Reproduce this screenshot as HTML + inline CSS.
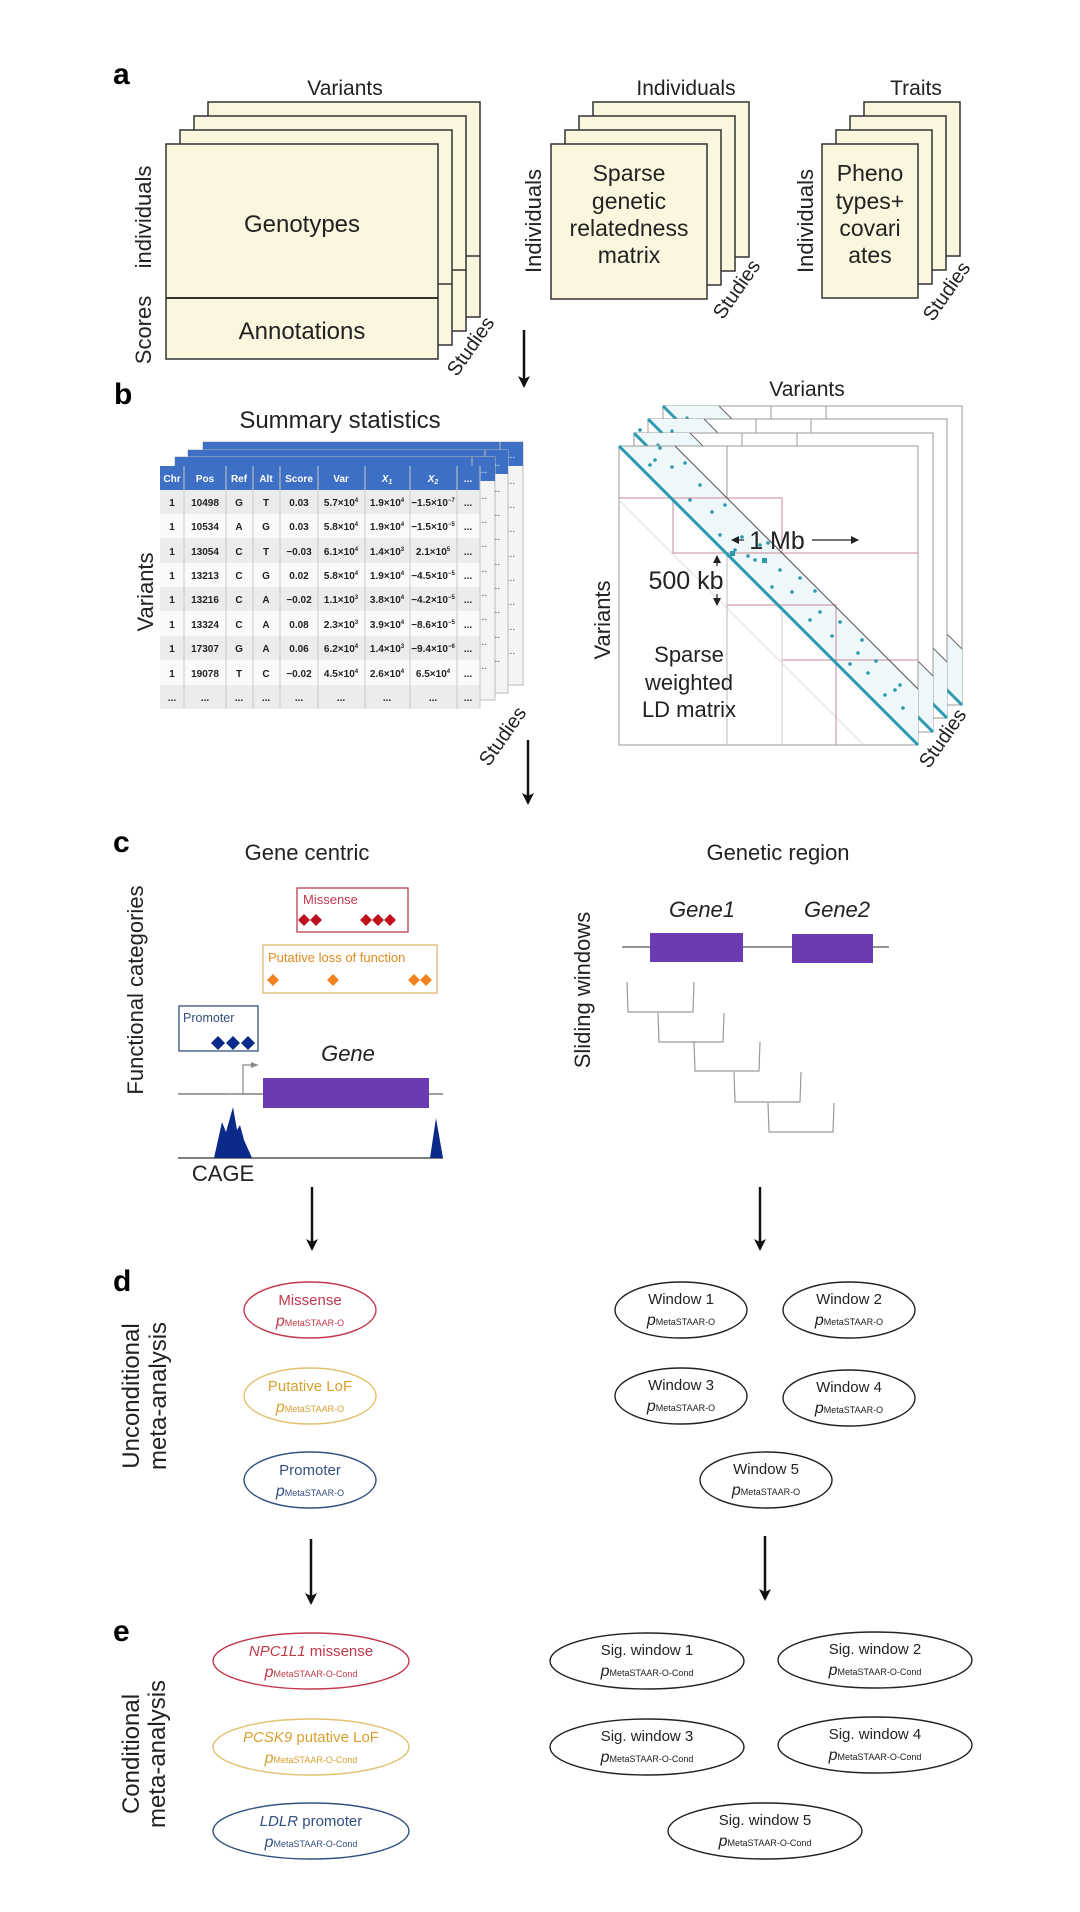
<!DOCTYPE html>
<html><head><meta charset="utf-8"><style>
html,body{margin:0;padding:0;background:#fff;}
svg{display:block;font-family:"Liberation Sans",Arial,sans-serif;}
</style></head><body>
<svg width="1080" height="1912" viewBox="0 0 1080 1912" xmlns="http://www.w3.org/2000/svg">
<defs>
<marker id="ah" markerWidth="12" markerHeight="12" refX="10" refY="6" orient="auto" markerUnits="userSpaceOnUse"><path d="M0,0 L12,6 L0,12 L3,6 Z" fill="#111"/></marker>
<marker id="sa" markerWidth="8" markerHeight="8" refX="7" refY="4" orient="auto" markerUnits="userSpaceOnUse"><path d="M0,0 L8,4 L0,8 Z" fill="#222"/></marker>
<marker id="ga" markerWidth="8" markerHeight="8" refX="7" refY="4" orient="auto" markerUnits="userSpaceOnUse"><path d="M0,1 L7,4 L0,7 Z" fill="#888"/></marker>
<g id="tblback">
<rect x="0" y="0" width="320" height="243" fill="#f4f4f4" stroke="#bbb"/>
<rect x="0" y="0" width="320" height="24" fill="#3d6fc4"/>
<text x="308" y="16" fill="#fff" font-size="10" text-anchor="middle">...</text>
<text x="308" y="42" fill="#444" font-size="10" text-anchor="middle">...</text>
<text x="308" y="66" fill="#444" font-size="10" text-anchor="middle">...</text>
<text x="308" y="90" fill="#444" font-size="10" text-anchor="middle">...</text>
<text x="308" y="115" fill="#444" font-size="10" text-anchor="middle">...</text>
<text x="308" y="139" fill="#444" font-size="10" text-anchor="middle">...</text>
<text x="308" y="163" fill="#444" font-size="10" text-anchor="middle">...</text>
<text x="308" y="188" fill="#444" font-size="10" text-anchor="middle">...</text>
<text x="308" y="212" fill="#444" font-size="10" text-anchor="middle">...</text>
<line x1="297" y1="0" x2="297" y2="243" stroke="#bbb"/>
</g>
<g id="ldback">
<rect x="0" y="0" width="299" height="299" fill="#fff" stroke="#999"/>
<polygon points="0,0 56,0 299,243 299,299" fill="#eef7f9"/>
<line x1="0" y1="0" x2="299" y2="299" stroke="#2a9ab0" stroke-width="3"/>
<line x1="56" y1="0" x2="299" y2="243" stroke="#666" stroke-width="1"/>
<line x1="108" y1="0" x2="108" y2="52" stroke="#999"/>
<line x1="163" y1="0" x2="163" y2="107" stroke="#999"/>
<circle cx="24" cy="12" r="1.6" fill="#2a9ab0"/><circle cx="40" cy="20" r="1.6" fill="#2a9ab0"/>
</g>
</defs>

<!-- ===== Panel a ===== -->
<text x="113" y="84" font-size="30" font-weight="bold">a</text>
<text x="345" y="95" font-size="21" text-anchor="middle" fill="#222">Variants</text>
<text x="686" y="95" font-size="21" text-anchor="middle" fill="#222">Individuals</text>
<text x="916" y="95" font-size="21" text-anchor="middle" fill="#222">Traits</text>

<g fill="#fbf7df" stroke="#333" stroke-width="1.5">
<rect x="208" y="102" width="272" height="215"/>
<rect x="194" y="116" width="272" height="215"/>
<rect x="180" y="130" width="272" height="215"/>
<rect x="166" y="144" width="272" height="215"/>
<rect x="593" y="102" width="156" height="155"/>
<rect x="579" y="116" width="156" height="155"/>
<rect x="565" y="130" width="156" height="155"/>
<rect x="551" y="144" width="156" height="155"/>
<rect x="864" y="102" width="96" height="154"/>
<rect x="850" y="116" width="96" height="154"/>
<rect x="836" y="130" width="96" height="154"/>
<rect x="822" y="144" width="96" height="154"/>
</g>
<line x1="166" y1="298" x2="438" y2="298" stroke="#333" stroke-width="2"/>
<line x1="438" y1="284" x2="452" y2="284" stroke="#333" stroke-width="1.5"/>
<line x1="452" y1="270" x2="466" y2="270" stroke="#333" stroke-width="1.5"/>
<line x1="466" y1="256" x2="480" y2="256" stroke="#333" stroke-width="1.5"/>
<text x="302" y="232" font-size="24" text-anchor="middle" fill="#222">Genotypes</text>
<text x="302" y="339" font-size="24" text-anchor="middle" fill="#222">Annotations</text>
<text transform="translate(151,217) rotate(-90)" font-size="22" text-anchor="middle" fill="#222">individuals</text>
<text transform="translate(151,330) rotate(-90)" font-size="22" text-anchor="middle" fill="#222">Scores</text>
<text transform="translate(476,350) rotate(-55)" font-size="20" text-anchor="middle" fill="#222">Studies</text>

<g font-size="23" text-anchor="middle" fill="#222">
<text x="629" y="181">Sparse</text>
<text x="629" y="209">genetic</text>
<text x="629" y="236">relatedness</text>
<text x="629" y="263">matrix</text>
<text x="870" y="181">Pheno</text>
<text x="870" y="209">types+</text>
<text x="870" y="236">covari</text>
<text x="870" y="263">ates</text>
</g>
<text transform="translate(541,221) rotate(-90)" font-size="22" text-anchor="middle" fill="#222">Individuals</text>
<text transform="translate(813,221) rotate(-90)" font-size="22" text-anchor="middle" fill="#222">Individuals</text>
<text transform="translate(742,293) rotate(-55)" font-size="20" text-anchor="middle" fill="#222">Studies</text>
<text transform="translate(952,295) rotate(-55)" font-size="20" text-anchor="middle" fill="#222">Studies</text>

<line x1="524" y1="330" x2="524" y2="386" stroke="#111" stroke-width="2.5" marker-end="url(#ah)"/>

<!-- ===== Panel b ===== -->
<text x="114" y="404" font-size="30" font-weight="bold">b</text>
<text x="340" y="428" font-size="24" text-anchor="middle" fill="#222">Summary statistics</text>
<text x="807" y="396" font-size="21" text-anchor="middle" fill="#222">Variants</text>

<use href="#tblback" x="203" y="442"/>
<use href="#tblback" x="188" y="450"/>
<use href="#tblback" x="175" y="457"/>

<g>
<rect x="160" y="466" width="320" height="24" fill="#3d6fc4"/>
<g fill="#ececec">
<rect x="160" y="490" width="320" height="24"/>
<rect x="160" y="538" width="320" height="25"/>
<rect x="160" y="587" width="320" height="24"/>
<rect x="160" y="636" width="320" height="24"/>
<rect x="160" y="685" width="320" height="24"/>
</g>
<g fill="#fafafa">
<rect x="160" y="514" width="320" height="24"/>
<rect x="160" y="563" width="320" height="24"/>
<rect x="160" y="611" width="320" height="25"/>
<rect x="160" y="660" width="320" height="25"/>
</g>
<g stroke="#c8c8c8" stroke-width="1">
<line x1="184" y1="466" x2="184" y2="709"/><line x1="226" y1="466" x2="226" y2="709"/>
<line x1="253" y1="466" x2="253" y2="709"/><line x1="280" y1="466" x2="280" y2="709"/>
<line x1="318" y1="466" x2="318" y2="709"/><line x1="365" y1="466" x2="365" y2="709"/>
<line x1="410" y1="466" x2="410" y2="709"/><line x1="457" y1="466" x2="457" y2="709"/>
<line x1="480" y1="466" x2="480" y2="709"/>
</g>
<g font-size="10" font-weight="bold" fill="#fff" text-anchor="middle">
<text x="172" y="482">Chr</text><text x="205" y="482">Pos</text><text x="239" y="482">Ref</text>
<text x="266" y="482">Alt</text><text x="299" y="482">Score</text><text x="341" y="482">Var</text>
<text x="387" y="482" font-style="italic">X<tspan font-size="7" dy="2">1</tspan></text>
<text x="433" y="482" font-style="italic">X<tspan font-size="7" dy="2">2</tspan></text>
<text x="468" y="482">...</text>
</g>
<g font-size="10" font-weight="bold" fill="#222" text-anchor="middle">
<text x="172" y="506">1</text><text x="205" y="506">10498</text><text x="239" y="506">G</text><text x="266" y="506">T</text><text x="299" y="506">0.03</text><text x="341" y="506">5.7×10<tspan font-size="6" dy="-4">4</tspan></text><text x="387" y="506">1.9×10<tspan font-size="6" dy="-4">4</tspan></text><text x="433" y="506">−1.5×10<tspan font-size="6" dy="-4">−7</tspan></text><text x="468" y="506">...</text>
<text x="172" y="530">1</text><text x="205" y="530">10534</text><text x="239" y="530">A</text><text x="266" y="530">G</text><text x="299" y="530">0.03</text><text x="341" y="530">5.8×10<tspan font-size="6" dy="-4">4</tspan></text><text x="387" y="530">1.9×10<tspan font-size="6" dy="-4">4</tspan></text><text x="433" y="530">−1.5×10<tspan font-size="6" dy="-4">−5</tspan></text><text x="468" y="530">...</text>
<text x="172" y="555">1</text><text x="205" y="555">13054</text><text x="239" y="555">C</text><text x="266" y="555">T</text><text x="299" y="555">−0.03</text><text x="341" y="555">6.1×10<tspan font-size="6" dy="-4">4</tspan></text><text x="387" y="555">1.4×10<tspan font-size="6" dy="-4">3</tspan></text><text x="433" y="555">2.1×10<tspan font-size="6" dy="-4">5</tspan></text><text x="468" y="555">...</text>
<text x="172" y="579">1</text><text x="205" y="579">13213</text><text x="239" y="579">C</text><text x="266" y="579">G</text><text x="299" y="579">0.02</text><text x="341" y="579">5.8×10<tspan font-size="6" dy="-4">4</tspan></text><text x="387" y="579">1.9×10<tspan font-size="6" dy="-4">4</tspan></text><text x="433" y="579">−4.5×10<tspan font-size="6" dy="-4">−5</tspan></text><text x="468" y="579">...</text>
<text x="172" y="603">1</text><text x="205" y="603">13216</text><text x="239" y="603">C</text><text x="266" y="603">A</text><text x="299" y="603">−0.02</text><text x="341" y="603">1.1×10<tspan font-size="6" dy="-4">3</tspan></text><text x="387" y="603">3.8×10<tspan font-size="6" dy="-4">4</tspan></text><text x="433" y="603">−4.2×10<tspan font-size="6" dy="-4">−5</tspan></text><text x="468" y="603">...</text>
<text x="172" y="628">1</text><text x="205" y="628">13324</text><text x="239" y="628">C</text><text x="266" y="628">A</text><text x="299" y="628">0.08</text><text x="341" y="628">2.3×10<tspan font-size="6" dy="-4">3</tspan></text><text x="387" y="628">3.9×10<tspan font-size="6" dy="-4">4</tspan></text><text x="433" y="628">−8.6×10<tspan font-size="6" dy="-4">−5</tspan></text><text x="468" y="628">...</text>
<text x="172" y="652">1</text><text x="205" y="652">17307</text><text x="239" y="652">G</text><text x="266" y="652">A</text><text x="299" y="652">0.06</text><text x="341" y="652">6.2×10<tspan font-size="6" dy="-4">4</tspan></text><text x="387" y="652">1.4×10<tspan font-size="6" dy="-4">3</tspan></text><text x="433" y="652">−9.4×10<tspan font-size="6" dy="-4">−6</tspan></text><text x="468" y="652">...</text>
<text x="172" y="677">1</text><text x="205" y="677">19078</text><text x="239" y="677">T</text><text x="266" y="677">C</text><text x="299" y="677">−0.02</text><text x="341" y="677">4.5×10<tspan font-size="6" dy="-4">4</tspan></text><text x="387" y="677">2.6×10<tspan font-size="6" dy="-4">4</tspan></text><text x="433" y="677">6.5×10<tspan font-size="6" dy="-4">4</tspan></text><text x="468" y="677">...</text>
<text x="172" y="701">...</text><text x="205" y="701">...</text><text x="239" y="701">...</text><text x="266" y="701">...</text><text x="299" y="701">...</text><text x="341" y="701">...</text><text x="387" y="701">...</text><text x="433" y="701">...</text><text x="468" y="701">...</text>
</g>
</g>
<text transform="translate(153,592) rotate(-90)" font-size="22" text-anchor="middle" fill="#222">Variants</text>
<text transform="translate(508,740) rotate(-55)" font-size="20" text-anchor="middle" fill="#222">Studies</text>

<use href="#ldback" x="663" y="406"/>
<use href="#ldback" x="648" y="419"/>
<use href="#ldback" x="634" y="433"/>
<g>
<rect x="619" y="446" width="299" height="299" fill="#fff" stroke="#999"/>
<polygon points="619,446 675,446 918,689 918,745" fill="#eef7f9"/>
<line x1="619" y1="500" x2="864" y2="745" stroke="#e4dcdc" stroke-width="1"/>
<g fill="none" stroke-width="1">
<rect x="619" y="446" width="108" height="52" stroke="#999"/>
<polyline points="619,498 782,498 782,553" stroke="#c98a96"/>
<polyline points="673,498 673,553 727,553" stroke="#c98a96"/>
<polyline points="727,553 918,553" stroke="#c98a96"/>
<polyline points="727,553 727,745" stroke="#bbb"/>
<polyline points="727,605 836,605 836,745" stroke="#c98a96"/>
<polyline points="782,660 918,660" stroke="#c98a96"/>
<polyline points="782,605 782,745" stroke="#ccc"/>
</g>
<line x1="675" y1="446" x2="918" y2="689" stroke="#555" stroke-width="1"/>
<line x1="619" y1="446" x2="918" y2="745" stroke="#2a9ab0" stroke-width="3"/>
<g fill="#2a9ab0">
<circle cx="640" cy="430" r="1.8"/><circle cx="655" cy="460" r="1.8"/><circle cx="660" cy="448" r="1.8"/>
<circle cx="672" cy="467" r="1.8"/><circle cx="690" cy="500" r="1.8"/><circle cx="700" cy="485" r="1.8"/>
<circle cx="712" cy="512" r="1.8"/><circle cx="725" cy="505" r="1.8"/><circle cx="735" cy="550" r="1.8"/>
<circle cx="742" cy="537" r="1.8"/><circle cx="755" cy="560" r="1.8"/><circle cx="760" cy="545" r="1.8"/>
<circle cx="772" cy="587" r="1.8"/><circle cx="780" cy="570" r="1.8"/><circle cx="792" cy="592" r="1.8"/>
<circle cx="800" cy="578" r="1.8"/><circle cx="810" cy="620" r="1.8"/><circle cx="820" cy="612" r="1.8"/>
<circle cx="832" cy="636" r="1.8"/><circle cx="840" cy="622" r="1.8"/><circle cx="850" cy="664" r="1.8"/>
<circle cx="858" cy="653" r="1.8"/><circle cx="868" cy="673" r="1.8"/><circle cx="876" cy="661" r="1.8"/>
<circle cx="885" cy="695" r="1.8"/><circle cx="895" cy="690" r="1.8"/><circle cx="903" cy="708" r="1.8"/>
<circle cx="650" cy="465" r="1.8"/><circle cx="685" cy="463" r="1.8"/><circle cx="720" cy="535" r="1.8"/>
<circle cx="768" cy="543" r="1.8"/><circle cx="815" cy="591" r="1.8"/><circle cx="862" cy="640" r="1.8"/>
<circle cx="900" cy="685" r="1.8"/><circle cx="748" cy="556" r="1.8"/>
<rect x="730" y="551" width="5" height="5"/><rect x="762" y="558" width="5" height="5"/>
</g>
</g>
<line x1="744" y1="540" x2="732" y2="540" stroke="#222" stroke-width="1.2" marker-end="url(#sa)"/>
<line x1="812" y1="540" x2="858" y2="540" stroke="#222" stroke-width="1.2" marker-end="url(#sa)"/>
<text x="777" y="549" font-size="25" text-anchor="middle" fill="#222">1 Mb</text>
<line x1="717" y1="566" x2="717" y2="556" stroke="#222" stroke-width="1.2" marker-end="url(#sa)"/>
<line x1="717" y1="594" x2="717" y2="605" stroke="#222" stroke-width="1.2" marker-end="url(#sa)"/>
<text x="686" y="589" font-size="25" text-anchor="middle" fill="#222">500 kb</text>
<g font-size="22" text-anchor="middle" fill="#222">
<text x="689" y="662">Sparse</text>
<text x="689" y="690">weighted</text>
<text x="689" y="717">LD matrix</text>
</g>
<text transform="translate(610,620) rotate(-90)" font-size="22" text-anchor="middle" fill="#222">Variants</text>
<text transform="translate(948,742) rotate(-55)" font-size="20" text-anchor="middle" fill="#222">Studies</text>

<line x1="528" y1="740" x2="528" y2="803" stroke="#111" stroke-width="2.5" marker-end="url(#ah)"/>

<!-- ===== Panel c ===== -->
<text x="113" y="852" font-size="30" font-weight="bold">c</text>
<text x="307" y="860" font-size="22" text-anchor="middle" fill="#222">Gene centric</text>
<text x="778" y="860" font-size="22" text-anchor="middle" fill="#222">Genetic region</text>
<text transform="translate(143,990) rotate(-90)" font-size="22" text-anchor="middle" fill="#222">Functional categories</text>
<text transform="translate(590,990) rotate(-90)" font-size="22" text-anchor="middle" fill="#222">Sliding windows</text>

<rect x="297" y="888" width="111" height="44" fill="#fff" stroke="#b8404e" stroke-width="1.3"/>
<text x="303" y="904" font-size="13" fill="#c0394b">Missense</text>
<g fill="#c0101e">
<path d="M304,914 l6,6 l-6,6 l-6,-6z"/><path d="M316,914 l6,6 l-6,6 l-6,-6z"/>
<path d="M366,914 l6,6 l-6,6 l-6,-6z"/><path d="M378,914 l6,6 l-6,6 l-6,-6z"/><path d="M390,914 l6,6 l-6,6 l-6,-6z"/>
</g>
<rect x="263" y="945" width="174" height="48" fill="#fff" stroke="#e2b870" stroke-width="1.3"/>
<text x="268" y="962" font-size="13" fill="#e08a20">Putative loss of function</text>
<g fill="#f0821e">
<path d="M273,974 l6,6 l-6,6 l-6,-6z"/><path d="M333,974 l6,6 l-6,6 l-6,-6z"/>
<path d="M414,974 l6,6 l-6,6 l-6,-6z"/><path d="M426,974 l6,6 l-6,6 l-6,-6z"/>
</g>
<rect x="179" y="1006" width="79" height="45" fill="#fff" stroke="#34507f" stroke-width="1.3"/>
<text x="183" y="1022" font-size="12.5" fill="#34507f">Promoter</text>
<g fill="#0a2a8a">
<path d="M218,1036 l7,7 l-7,7 l-7,-7z"/><path d="M233,1036 l7,7 l-7,7 l-7,-7z"/><path d="M248,1036 l7,7 l-7,7 l-7,-7z"/>
</g>
<text x="348" y="1061" font-size="22" font-style="italic" text-anchor="middle" fill="#222">Gene</text>
<line x1="178" y1="1094" x2="443" y2="1094" stroke="#666" stroke-width="1.3"/>
<rect x="263" y="1078" width="166" height="30" fill="#6a3bb3"/>
<polyline points="228,1094 243,1094 243,1065 258,1065" fill="none" stroke="#888" stroke-width="1.2" marker-end="url(#ga)"/>
<line x1="178" y1="1158" x2="443" y2="1158" stroke="#333" stroke-width="1.3"/>
<path d="M214,1158 L222,1122 L226,1132 L233,1107 L237,1130 L240,1125 L244,1140 L252,1158 Z" fill="#0a2a8a"/>
<path d="M430,1158 L436,1118 L443,1158 Z" fill="#0a2a8a"/>
<text x="223" y="1181" font-size="22" text-anchor="middle" fill="#222">CAGE</text>

<text x="702" y="917" font-size="22" font-style="italic" text-anchor="middle" fill="#222">Gene1</text>
<text x="837" y="917" font-size="22" font-style="italic" text-anchor="middle" fill="#222">Gene2</text>
<line x1="622" y1="947" x2="889" y2="947" stroke="#555" stroke-width="1.3"/>
<rect x="650" y="933" width="93" height="29" fill="#6a3bb3"/>
<rect x="792" y="934" width="81" height="29" fill="#6a3bb3"/>
<g fill="none" stroke="#999" stroke-width="1.2">
<polyline points="627,982 628,1012 693,1012 694,982"/>
<polyline points="658,1013 659,1042 723,1042 724,1013"/>
<polyline points="694,1042 695,1071 759,1071 760,1042"/>
<polyline points="734,1072 735,1102 800,1102 801,1072"/>
<polyline points="768,1103 769,1132 833,1132 834,1103"/>
</g>

<line x1="312" y1="1187" x2="312" y2="1249" stroke="#111" stroke-width="2.5" marker-end="url(#ah)"/>
<line x1="760" y1="1187" x2="760" y2="1249" stroke="#111" stroke-width="2.5" marker-end="url(#ah)"/>

<!-- ===== Panel d ===== -->
<text x="113" y="1291" font-size="30" font-weight="bold">d</text>
<text transform="translate(139,1396) rotate(-90)" font-size="24" text-anchor="middle" fill="#222">Unconditional</text>
<text transform="translate(166,1396) rotate(-90)" font-size="24" text-anchor="middle" fill="#222">meta-analysis</text>

<g fill="none" stroke-width="1.4">
<ellipse cx="310" cy="1310" rx="66" ry="28" stroke="#c0394b"/>
<ellipse cx="310" cy="1396" rx="66" ry="28" stroke="#e2c070"/>
<ellipse cx="310" cy="1480" rx="66" ry="28" stroke="#34507f"/>
<ellipse cx="681" cy="1310" rx="66" ry="28" stroke="#222"/>
<ellipse cx="849" cy="1310" rx="66" ry="28" stroke="#222"/>
<ellipse cx="681" cy="1396" rx="66" ry="28" stroke="#222"/>
<ellipse cx="849" cy="1398" rx="66" ry="28" stroke="#222"/>
<ellipse cx="766" cy="1480" rx="66" ry="28" stroke="#222"/>
</g>
<g font-size="15" text-anchor="middle">
<text x="310" y="1305" fill="#c0394b">Missense</text>
<text x="310" y="1326" fill="#c0394b" font-size="9"><tspan font-size="16" font-style="italic">p</tspan>MetaSTAAR-O</text>
<text x="310" y="1391" fill="#d8a030">Putative LoF</text>
<text x="310" y="1412" fill="#d8a030" font-size="9"><tspan font-size="16" font-style="italic">p</tspan>MetaSTAAR-O</text>
<text x="310" y="1475" fill="#34507f">Promoter</text>
<text x="310" y="1496" fill="#34507f" font-size="9"><tspan font-size="16" font-style="italic">p</tspan>MetaSTAAR-O</text>
<g fill="#222">
<text x="681" y="1304">Window 1</text>
<text x="681" y="1325" font-size="9"><tspan font-size="16" font-style="italic">p</tspan>MetaSTAAR-O</text>
<text x="849" y="1304">Window 2</text>
<text x="849" y="1325" font-size="9"><tspan font-size="16" font-style="italic">p</tspan>MetaSTAAR-O</text>
<text x="681" y="1390">Window 3</text>
<text x="681" y="1411" font-size="9"><tspan font-size="16" font-style="italic">p</tspan>MetaSTAAR-O</text>
<text x="849" y="1392">Window 4</text>
<text x="849" y="1413" font-size="9"><tspan font-size="16" font-style="italic">p</tspan>MetaSTAAR-O</text>
<text x="766" y="1474">Window 5</text>
<text x="766" y="1495" font-size="9"><tspan font-size="16" font-style="italic">p</tspan>MetaSTAAR-O</text>
</g>
</g>

<line x1="311" y1="1539" x2="311" y2="1603" stroke="#111" stroke-width="2.5" marker-end="url(#ah)"/>
<line x1="765" y1="1536" x2="765" y2="1599" stroke="#111" stroke-width="2.5" marker-end="url(#ah)"/>

<!-- ===== Panel e ===== -->
<text x="113" y="1641" font-size="30" font-weight="bold">e</text>
<text transform="translate(139,1754) rotate(-90)" font-size="24" text-anchor="middle" fill="#222">Conditional</text>
<text transform="translate(165,1754) rotate(-90)" font-size="24" text-anchor="middle" fill="#222">meta-analysis</text>

<g fill="none" stroke-width="1.4">
<ellipse cx="311" cy="1661" rx="98" ry="28" stroke="#c0394b"/>
<ellipse cx="311" cy="1747" rx="98" ry="28" stroke="#e2c070"/>
<ellipse cx="311" cy="1831" rx="98" ry="28" stroke="#34507f"/>
<ellipse cx="647" cy="1661" rx="97" ry="28" stroke="#222"/>
<ellipse cx="875" cy="1660" rx="97" ry="28" stroke="#222"/>
<ellipse cx="647" cy="1747" rx="97" ry="28" stroke="#222"/>
<ellipse cx="875" cy="1745" rx="97" ry="28" stroke="#222"/>
<ellipse cx="765" cy="1831" rx="97" ry="28" stroke="#222"/>
</g>
<g font-size="15" text-anchor="middle">
<text x="311" y="1656" fill="#c0394b"><tspan font-style="italic">NPC1L1</tspan> missense</text>
<text x="311" y="1677" fill="#c0394b" font-size="9"><tspan font-size="16" font-style="italic">p</tspan>MetaSTAAR-O-Cond</text>
<text x="311" y="1742" fill="#d8a030"><tspan font-style="italic">PCSK9</tspan> putative LoF</text>
<text x="311" y="1763" fill="#d8a030" font-size="9"><tspan font-size="16" font-style="italic">p</tspan>MetaSTAAR-O-Cond</text>
<text x="311" y="1826" fill="#34507f"><tspan font-style="italic">LDLR</tspan> promoter</text>
<text x="311" y="1847" fill="#34507f" font-size="9"><tspan font-size="16" font-style="italic">p</tspan>MetaSTAAR-O-Cond</text>
<g fill="#222">
<text x="647" y="1655">Sig. window 1</text>
<text x="647" y="1676" font-size="9"><tspan font-size="16" font-style="italic">p</tspan>MetaSTAAR-O-Cond</text>
<text x="875" y="1654">Sig. window 2</text>
<text x="875" y="1675" font-size="9"><tspan font-size="16" font-style="italic">p</tspan>MetaSTAAR-O-Cond</text>
<text x="647" y="1741">Sig. window 3</text>
<text x="647" y="1762" font-size="9"><tspan font-size="16" font-style="italic">p</tspan>MetaSTAAR-O-Cond</text>
<text x="875" y="1739">Sig. window 4</text>
<text x="875" y="1760" font-size="9"><tspan font-size="16" font-style="italic">p</tspan>MetaSTAAR-O-Cond</text>
<text x="765" y="1825">Sig. window 5</text>
<text x="765" y="1846" font-size="9"><tspan font-size="16" font-style="italic">p</tspan>MetaSTAAR-O-Cond</text>
</g>
</g>
</svg>
</body></html>
